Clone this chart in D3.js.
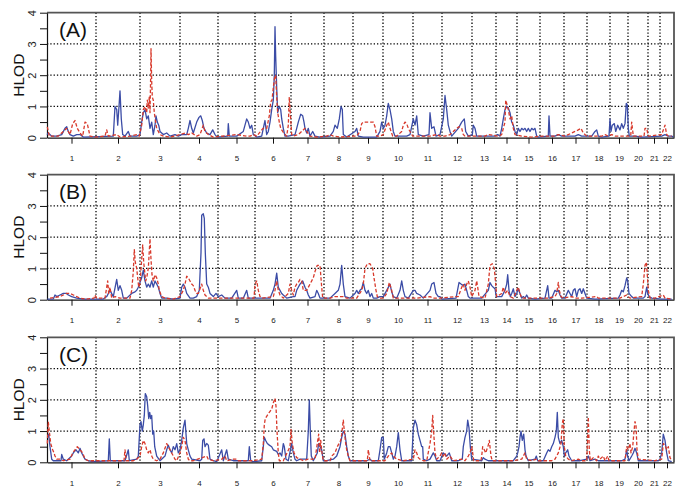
<!DOCTYPE html>
<html>
<head>
<meta charset="utf-8">
<script src="https://cdn.jsdelivr.net/npm/d3@7"></script>
<style>
  body { margin: 0; background: #fff; }
  svg { display: block; font-family: "Liberation Sans", Arial, sans-serif; }
</style>
</head>
<body>
<svg id="chart" width="685" height="493"></svg>
<script>
// chromosomes and their map lengths (map units, 22 autosomes)
var chromNames = ["1","2","3","4","5","6","7","8","9","10","11","12","13","14","15","16","17","18","19","20","21","22"];
var chromLengths = [49,44,40,38,37,36,33,29,30,30,29,30,24,21,23,24,23,23,18,20,12,14];

var hlodTicks = [0, 0.5, 1, 1.5, 2, 2.5, 3, 3.5, 4];
var hlodLabels = [0, 1, 2, 3, 4];
var gridLevels = [1, 2, 3];
var panelLabels = ["(A)", "(B)", "(C)"];

// [cumulative map position, HLOD]
var hlodBlueA = [[0,0.1],[1.3,0.15],[4.7,0.05],[9.7,0.05],[14.7,0.1],[18,0.3],[19.7,0.35],[21.3,0.2],[23,0.1],[26.3,0.05],[29.7,0.1],[33,0.1],[36.3,0.02],[66.3,0.05],[68,1.0],[69.7,0.9],[70.7,0.4],[72,1.0],[73,1.5],[74.3,0.6],[75.7,0.1],[78,0.05],[81.3,0.2],[83,0.05],[89.7,0.05],[93,0.1],[94.7,0.5],[96.3,0.8],[98,0.9],[99.7,0.6],[101.3,0.7],[103,0.3],[104.7,0.5],[106.3,0.1],[108,0.4],[109,0.7],[110.3,0.5],[111.7,0.4],[113,0.2],[116.3,0.1],[119.7,0.15],[123,0.05],[128,0.1],[131.3,0.05],[134.7,0.1],[139.7,0.1],[141.3,0.3],[143,0.55],[144.7,0.3],[146.3,0.15],[149.7,0.5],[152,0.65],[153.7,0.7],[155.3,0.55],[157,0.3],[159.7,0.15],[163,0.1],[165.7,0.25],[168,0.1],[170.3,0.02],[180.7,0.05],[181.3,0.45],[182.3,0.05],[186.3,0.05],[189.7,0.05],[196.3,0.2],[199.7,0.6],[201.3,0.5],[203,0.3],[204.7,0.4],[206.3,0.1],[209.7,0.02],[214.7,0.05],[216.3,0.3],[218,0.55],[219.7,0.1],[221.3,0.2],[223,0.5],[224.7,0.9],[226.3,1.2],[227.3,2.0],[228,3.55],[228.7,2.6],[229.7,1.6],[230.7,0.8],[232.3,1.0],[233.7,0.9],[234.7,0.6],[236.3,0.3],[238,0.05],[241.3,0.05],[248,0.1],[249.7,0.3],[251.3,0.5],[253.7,0.75],[255.7,0.7],[257,0.5],[258,0.3],[259.7,0.15],[261.3,0.3],[263,0.05],[265.7,0.2],[268,0.05],[273,0.02],[283,0.05],[286.3,0.2],[288,0.4],[290.3,0.3],[292.3,0.6],[294,1.0],[295.3,0.9],[296.3,0.1],[299.7,0.02],[308,0.2],[309.7,0.3],[311.3,0.05],[316.3,0.02],[329.7,0.02],[333,0.2],[334.7,0.5],[336.3,0.3],[338,0.4],[339.7,0.7],[341.3,1.1],[343,0.9],[344.7,0.6],[346.3,0.2],[348,0.05],[353,0.05],[359.7,0.05],[363,0.1],[366.3,0.6],[368,0.4],[369.7,0.7],[371.3,0.1],[376.3,0.05],[382,0.1],[383,0.8],[384.7,0.3],[387,0.35],[389,0.05],[393,0.1],[396.3,0.6],[398,1.35],[399.7,0.9],[401.3,0.4],[403,0.2],[404.7,0.05],[411.3,0.3],[414.7,0.5],[417.3,0.6],[418.7,0.2],[421.3,0.05],[425.3,0.1],[426.3,0.4],[428,0.3],[429.7,0.05],[441.3,0.05],[448,0.05],[450.7,0.1],[453,0.05],[454.7,0.3],[456.3,0.6],[458,0.9],[459.7,1.0],[461.3,0.95],[463,0.8],[464.7,0.5],[466.3,0.4],[468,0.2],[469.7,0.1],[471.3,0.3],[473,0.2],[474.7,0.3],[476.3,0.25],[478,0.3],[479.7,0.2],[481.3,0.3],[483,0.2],[484.7,0.3],[486.3,0.25],[488,0.3],[489.7,0.05],[491.3,0.02],[501.3,0.05],[502,0.7],[503,0.05],[508,0.05],[511.3,0.1],[514.7,0.05],[521.3,0.05],[528,0.05],[531.3,0.1],[534.7,0.05],[544.7,0.05],[548,0.2],[549.7,0.25],[551.3,0.05],[554.7,0.02],[562,0.05],[563,0.6],[564,0.2],[565.3,0.4],[567.3,0.45],[568.7,0.2],[570.7,0.4],[573,0.25],[574.7,0.45],[576.3,0.3],[578,0.45],[579.3,1.1],[580.3,1.05],[581.3,0.3],[582.3,0.05],[584.7,0.05],[588,0.05],[594.7,0.02],[614.7,0.05],[618,0.1],[621.3,0.05],[624.7,0.05],[626.3,0.02]];

var hlodRedA = [[0.3,0.35],[2.3,0.05],[11.3,0.05],[16.3,0.2],[19.7,0.3],[23,0.1],[25.7,0.45],[28,0.55],[30.3,0.3],[33,0.15],[35.7,0.05],[38,0.5],[40.3,0.45],[43,0.05],[48,0.02],[58,0.05],[59.7,0.25],[61.3,0.05],[69.7,0.1],[73,0.02],[83,0.05],[89.7,0.1],[92.3,0.05],[94.7,0.4],[96.3,0.9],[98,1.0],[99.7,0.8],[100.3,1.2],[101.3,0.95],[102.3,1.3],[103,0.8],[103.7,2.0],[104,2.85],[104.7,1.8],[105.3,1.3],[106.3,1.2],[107.3,0.8],[108.7,0.5],[109.7,0.3],[113,0.1],[116.3,0.05],[123,0.02],[133,0.1],[138,0.15],[141.3,0.1],[144.7,0.15],[149.7,0.05],[153,0.1],[156.3,0.4],[158,0.2],[161.3,0.1],[166.3,0.02],[189.7,0.1],[199.7,0.05],[203,0.05],[206.3,0.1],[209.7,0.05],[214.7,0.25],[216.3,0.3],[219.7,0.3],[222.3,0.7],[223.7,1.15],[225,1.2],[226.3,1.6],[227.7,1.95],[228.7,2.0],[229.7,1.3],[230.7,0.8],[232.3,0.5],[233.7,0.3],[235.7,0.2],[238,0.1],[239.7,0.05],[241.3,0.4],[242.3,1.3],[243.3,0.8],[244.7,0.1],[246.3,0.05],[251.3,0.1],[254.7,0.2],[258,0.3],[259.7,0.2],[263,0.05],[269.7,0.02],[279.7,0.05],[283,0.1],[286.3,0.05],[293,0.02],[306.3,0.05],[309.7,0.05],[313,0.2],[314.7,0.45],[316.3,0.5],[326.3,0.5],[328,0.35],[329.7,0.05],[333,0.05],[336.3,0.1],[339.7,0.4],[341.3,0.5],[343,0.3],[345.7,0.05],[349.7,0.05],[354.7,0.2],[356.3,0.4],[358,0.5],[359.7,0.45],[361.3,0.3],[363,0.2],[365.7,0.05],[369.7,0.05],[383,0.05],[389.7,0.1],[393,0.05],[398,0.05],[403,0.1],[409.7,0.3],[412,0.35],[414.7,0.3],[416.3,0.1],[418,0.05],[421.3,0.05],[438,0.05],[441.3,0.1],[451.3,0.05],[454.7,0.1],[456.3,0.3],[458,0.5],[458.7,1.2],[459.7,1.1],[461.3,0.9],[463,0.6],[464.7,0.7],[466.3,0.3],[468,0.1],[474.7,0.05],[484.7,0.02],[494.7,0.05],[508,0.05],[511.3,0.1],[518,0.05],[521.3,0.1],[524.7,0.15],[528,0.2],[531.3,0.25],[534,0.3],[536.3,0.15],[539.7,0.05],[554.7,0.05],[558,0.1],[561.3,0.05],[564.7,0.1],[568,0.05],[574.7,0.05],[583.7,0.05],[584.7,0.5],[586.3,0.05],[588,0.05],[597,0.05],[598,0.3],[599.7,0.3],[601.3,0.05],[614.7,0.1],[618,0.4],[619.7,0.1],[621.3,0.05],[624.7,0.05]];

var hlodBlueB = [[0.3,0.02],[6.3,0.02],[8,0.15],[9.7,0.1],[13,0.15],[16.3,0.2],[19.7,0.2],[21.3,0.15],[24.7,0.1],[29.7,0.05],[36.3,0.02],[56.3,0.02],[59.7,0.1],[63,0.3],[66.3,0.1],[69.7,0.65],[71.3,0.3],[73,0.45],[74.7,0.3],[76.3,0.05],[79.7,0.05],[84.7,0.2],[88,0.25],[89.7,0.3],[91.3,0.4],[94.7,0.7],[96.3,0.95],[98,0.6],[99.7,0.4],[101.3,0.5],[103,0.4],[104.7,0.6],[106.3,0.4],[108,0.6],[109.7,0.5],[111.3,0.4],[113,0.2],[114.7,0.05],[119.7,0.05],[126.3,0.02],[133,0.05],[134.7,0.4],[136.3,0.5],[138,0.4],[139.7,0.2],[143,0.05],[146.3,0.05],[149.7,0.1],[152.3,0.3],[154,1.5],[154.7,2.7],[156.3,2.75],[157.3,2.6],[158.3,1.5],[159.7,0.5],[161.3,0.4],[163,0.2],[166.3,0.1],[169,0.2],[171.3,0.1],[174.7,0.15],[178,0.05],[184.7,0.05],[189.7,0.3],[191.3,0.05],[196.3,0.05],[199.7,0.3],[201.3,0.05],[204.7,0.05],[213,0.05],[223,0.05],[226.3,0.3],[228,0.5],[229.7,0.85],[231.3,0.4],[233,0.3],[234.7,0.2],[236.3,0.15],[239.7,0.05],[246.3,0.1],[248,0.1],[249.7,0.3],[251.3,0.4],[253,0.5],[255.7,0.6],[258,0.4],[259.7,0.3],[261.3,0.15],[263,0.05],[268,0.1],[269.7,0.3],[271.3,0.2],[273,0.05],[283,0.05],[288,0.2],[291.3,0.3],[293,0.5],[294.7,1.1],[296.3,0.5],[298,0.1],[303,0.05],[308,0.2],[309.7,0.3],[311.3,0.2],[313,0.3],[314.7,0.35],[316.3,0.55],[318,0.3],[319.7,0.2],[321.3,0.3],[323,0.1],[324.7,0.2],[326.3,0.05],[329.7,0.05],[333,0.1],[336.3,0.1],[339.7,0.3],[343,0.5],[344.7,0.25],[346.3,0.1],[349.7,0.05],[353,0.3],[354.7,0.6],[356.3,0.3],[358,0.1],[361.3,0.05],[366.3,0.3],[368,0.3],[369.7,0.2],[373,0.15],[376.3,0.05],[383,0.3],[384.7,0.5],[387,0.55],[389,0.2],[391.3,0.1],[393,0.1],[395,0.02],[409,0.05],[410.5,0.3],[412,0.55],[414,0.5],[416.3,0.45],[418,0.5],[419.7,0.3],[421.3,0.1],[423,0.05],[428,0.05],[434.7,0.05],[441.3,0.3],[443,0.55],[444.7,0.45],[446.3,0.4],[448,0.35],[449.3,0.1],[454.7,0.1],[458,0.3],[459.7,0.5],[460.7,0.8],[462,0.3],[463.3,0.1],[464.7,0.2],[466.3,0.35],[468,0.1],[469.7,0.2],[471.3,0.35],[473,0.2],[474.7,0.05],[476.3,0.1],[478,0.05],[479.7,0.15],[481.3,0.05],[488,0.02],[498,0.05],[500.7,0.45],[502,0.05],[504.7,0.05],[508,0.3],[509.7,0.25],[511.3,0.3],[513,0.15],[514.7,0.05],[518,0.05],[521.3,0.3],[523,0.2],[524.7,0.1],[526.3,0.3],[528,0.35],[529.7,0.1],[531.3,0.3],[533,0.35],[534.7,0.2],[536.3,0.35],[538,0.2],[539.7,0.05],[548,0.02],[571.3,0.05],[573,0.15],[574.7,0.3],[576.3,0.25],[578,0.45],[579.7,0.7],[580.7,0.6],[582,0.2],[584.7,0.1],[586.3,0.05],[589.7,0.05],[596.3,0.05],[598,0.1],[599.7,0.4],[600.7,0.2],[602,0.1],[604.7,0.05],[614.7,0.02],[624.7,0.02]];

var hlodRedB = [[3,0.05],[13,0.1],[19.7,0.2],[23,0.2],[26.3,0.15],[29.7,0.1],[33,0.05],[39.7,0.02],[47,0.05],[48,0.15],[49.7,0.05],[58,0.05],[59.7,0.4],[60.7,0.6],[61.7,0.2],[63,0.4],[64.7,0.05],[68,0.1],[73,0.05],[83,0.05],[84.7,0.3],[86.3,0.9],[87.3,1.6],[88.3,1.2],[89.7,1.0],[90.7,0.7],[91.7,0.4],[93,0.5],[94.7,1.3],[95.7,1.75],[96.7,1.2],[97.7,0.9],[98.7,0.6],[99.7,0.7],[101.3,1.0],[103,1.95],[104,1.3],[105,0.8],[106.3,0.6],[108,0.8],[109.7,0.7],[111.3,0.5],[112.3,0.3],[114.7,0.1],[118,0.05],[126.3,0.02],[133,0.1],[136.3,0.3],[138,0.5],[139.7,0.75],[141.3,0.7],[143,0.6],[144.7,0.5],[146.3,0.45],[148,0.3],[149.7,0.2],[151.3,0.2],[153,0.35],[154.7,0.5],[156.3,0.3],[158,0.15],[161.3,0.05],[166.3,0.05],[179.7,0.05],[186.3,0.05],[196.3,0.05],[207,0.05],[208,0.5],[209.7,0.6],[211.3,0.3],[213,0.1],[214.7,0.05],[226.3,0.1],[228,0.3],[229.7,0.6],[231.3,0.3],[233,0.15],[236.3,0.05],[241.3,0.2],[243,0.5],[244.7,0.3],[246.3,0.15],[248,0.4],[249.7,0.5],[251.3,0.55],[253,0.65],[254.7,0.6],[256.3,0.3],[259.7,0.3],[263,0.5],[266.3,0.7],[268,0.9],[270.3,1.1],[273,1.1],[274.7,0.4],[275.7,0.05],[278,0.05],[283,0.05],[288,0.1],[293,0.1],[296.3,0.1],[299.7,0.05],[309.7,0.05],[314.7,0.3],[316.3,0.5],[318,1.0],[320.3,1.15],[323,1.15],[325.7,1.0],[327,0.7],[329,0.3],[330.3,0.1],[333,0.05],[336.3,0.05],[339.7,0.2],[342.3,0.55],[344.7,0.3],[346.3,0.05],[349.7,0.05],[366.3,0.05],[369.7,0.05],[383,0.1],[386.3,0.05],[393,0.05],[409.7,0.1],[411.3,0.1],[414.7,0.4],[416.3,0.5],[418,0.3],[419.7,0.5],[421.3,0.6],[423,0.4],[424.7,0.1],[428,0.3],[429.7,0.6],[430.7,0.4],[432,0.1],[438,0.05],[441.3,0.5],[443,1.1],[445.3,1.15],[447.3,1.0],[448.7,0.5],[449.7,0.1],[454.7,0.2],[456.3,0.4],[458,0.2],[460.7,0.3],[463,0.1],[466.3,0.05],[469.7,0.3],[471.3,0.4],[473,0.2],[474.7,0.05],[481.3,0.05],[501.3,0.05],[508,0.1],[509.7,0.2],[511.3,0.55],[512.3,0.3],[514,0.1],[516.3,0.05],[524.7,0.1],[528,0.05],[534.7,0.05],[549.7,0.1],[551.3,0.05],[558,0.05],[573,0.05],[576.3,0.1],[579.7,0.15],[581.3,0.1],[583,0.05],[594.7,0.1],[596.3,0.5],[598,1.1],[599.3,1.2],[600.3,0.8],[601.3,0.3],[603,0.05],[608,0.05],[616.3,0.15],[618,0.05],[624.7,0.02]];

var hlodBlueC = [[0.7,0.8],[1.7,0.9],[3,0.5],[4.7,0.1],[6.3,0.05],[9.7,0.05],[14,0.05],[14.7,0.25],[16.3,0.1],[19.7,0.05],[24.7,0.2],[26.3,0.3],[29,0.4],[31.3,0.3],[33,0.45],[34.7,0.3],[36.3,0.2],[38,0.1],[41.3,0.05],[46.3,0.02],[61.3,0.05],[62.3,0.75],[63.3,0.05],[69.7,0.05],[78,0.05],[81.3,0.4],[82.3,0.05],[89.7,0.1],[91.3,0.2],[93,1.2],[94,1.3],[95.3,1.0],[96.3,1.2],[97.3,1.5],[98.3,2.2],[99.7,2.1],[100.7,1.8],[101.7,1.4],[102.7,1.6],[103.7,1.4],[104.7,1.5],[105.7,0.9],[106.7,1.0],[107.7,0.5],[109.7,0.2],[113,0.05],[118,0.2],[119.7,0.4],[121.3,0.55],[123,0.4],[124.7,0.3],[126.3,0.5],[128,0.4],[129.7,0.6],[131.3,0.3],[133,0.4],[134.7,0.7],[136.3,1.1],[138,1.35],[139.7,0.6],[141.3,0.4],[143,0.2],[144.7,0.1],[153,0.05],[154.7,0.1],[155.7,0.7],[157,0.75],[158,0.5],[159.7,0.6],[161.3,0.55],[163,0.1],[166.3,0.05],[169.7,0.02],[174.7,0.4],[176.3,0.05],[179.7,0.4],[181.3,0.1],[186.3,0.05],[193,0.05],[201.3,0.05],[202.3,0.5],[203.7,0.05],[206.3,0.02],[214.7,0.05],[216.3,0.5],[217.3,0.8],[218.7,0.7],[220.3,0.6],[222.3,0.55],[224.7,0.5],[226.3,0.4],[229.7,0.35],[231.3,0.25],[233,0.3],[234.7,0.2],[236.3,0.6],[237.3,0.5],[239,0.1],[241.3,0.05],[244.7,0.6],[246.3,0.3],[248,0.1],[249.7,0.05],[253,0.1],[256.3,0.1],[259.7,0.1],[261.3,1.0],[262.3,2.0],[263.3,1.0],[264.3,0.2],[266.3,0.05],[270.3,0.3],[271.7,0.6],[273,0.5],[274.7,0.4],[276.3,0.05],[279.7,0.05],[286.3,0.1],[289.7,0.2],[293,0.5],[294.7,0.8],[296.3,1.0],[298,0.9],[299.7,0.5],[301.3,0.2],[303,0.05],[309.7,0.05],[319.7,0.05],[323,0.1],[324.7,0.05],[331.3,0.05],[333,0.4],[334.7,0.8],[336.3,0.8],[337.3,0.1],[339.7,0.3],[341.3,0.5],[343,0.5],[344.7,0.3],[346.3,0.1],[348,0.2],[349.7,0.5],[351.3,0.95],[353,0.4],[354.7,0.05],[359.7,0.05],[364.7,0.05],[366.3,1.1],[368,1.35],[369.7,1.2],[371.3,0.9],[373,0.7],[374.7,0.5],[375.7,0.5],[376.3,0.1],[379.7,0.05],[383,0.1],[386.3,0.3],[388,0.2],[389.7,0.05],[393,0.05],[396.3,0.3],[399.7,0.2],[402.3,0.3],[404.7,0.05],[411.3,0.05],[415.3,0.1],[416.3,0.5],[418,0.8],[419.7,1.0],[420.7,1.35],[422,1.1],[423.3,0.5],[424.7,0.1],[434.7,0.05],[436.3,0.15],[438,0.1],[441.3,0.05],[444.7,0.05],[451.3,0.05],[461.3,0.05],[466.3,0.05],[469.7,0.2],[470.7,0.3],[472,0.5],[473,0.8],[474,1.0],[475.3,0.7],[476.7,0.9],[478,0.4],[479,0.2],[481.3,0.05],[488,0.1],[489.3,0.2],[490.7,0.05],[496.3,0.05],[499.7,0.3],[501.3,0.4],[503,0.35],[504.7,0.5],[506.3,0.6],[508,0.8],[509.3,1.0],[510.3,1.6],[511.3,0.8],[513,0.6],[514.7,0.7],[516.3,0.5],[517.3,0.2],[518.7,0.3],[520.7,0.4],[522,0.2],[524.7,0.05],[533,0.05],[539.7,0.1],[541.3,0.2],[543,0.05],[548,0.1],[551.3,0.05],[561.3,0.05],[568,0.05],[574.7,0.05],[578,0.1],[579.7,0.4],[580.7,0.2],[582,0.05],[584.7,0.2],[586.3,0.3],[588,0.45],[589.7,0.3],[591.3,0.05],[604.7,0.05],[611.3,0.05],[613,0.1],[614.7,0.3],[616.3,0.9],[618,0.7],[619.7,0.3],[621.3,0.05],[624.7,0.02]];

var hlodRedC = [[0.3,0.6],[1.3,1.3],[2.3,1.0],[3.7,0.6],[5.7,0.4],[7,0.3],[8,0.2],[9.7,0.1],[13,0.1],[16.3,0.05],[23,0.1],[25.7,0.3],[28,0.4],[30.3,0.5],[33,0.4],[35.7,0.3],[38,0.1],[41.3,0.05],[53,0.05],[77,0.05],[78,0.4],[79,0.05],[86.3,0.05],[89.7,0.1],[93,0.2],[94.7,0.5],[96.3,0.7],[98,0.6],[99.7,0.4],[101.3,0.3],[103,0.4],[104.7,0.2],[106.3,0.1],[109.7,0.05],[113,0.1],[116.3,0.3],[119.7,0.6],[121.3,0.5],[123,0.4],[124.7,0.3],[126.3,0.2],[128,0.1],[129.7,0.05],[133,0.3],[134.7,0.5],[136.3,0.8],[138,0.7],[139.7,0.3],[141.3,0.1],[143,0.05],[146.3,0.05],[159.7,0.2],[161.3,0.1],[166.3,0.05],[174.7,0.1],[178,0.2],[179.7,0.05],[186.3,0.1],[189.7,0.1],[191.3,0.05],[199.7,0.05],[206.3,0.05],[214.7,0.1],[216.3,0.6],[217.3,1.2],[218.3,1.4],[220.3,1.5],[222.3,1.6],[224.7,1.7],[226.3,1.9],[228,2.05],[229,1.8],[230,1.0],[231.3,0.3],[232.3,0.05],[236.3,0.05],[243,0.5],[244,1.05],[245.3,0.6],[247,0.3],[249.7,0.15],[253,0.1],[256.3,0.05],[261.3,0.1],[264.7,0.1],[268,0.1],[270.3,0.6],[271.7,0.9],[272.7,0.3],[273.7,0.7],[275,0.3],[276.3,0.05],[283,0.05],[284.7,0.2],[288,0.3],[290.3,0.5],[292,0.6],[293.7,0.7],[294.7,0.9],[296.3,1.35],[297.3,1.0],[298.7,0.6],[299.7,0.4],[301.3,0.2],[303,0.05],[311.3,0.05],[320.3,0.05],[321.3,0.4],[323,0.05],[329.7,0.05],[338,0.05],[341.3,0.2],[344.7,0.3],[346.3,0.2],[349.7,0.1],[356.3,0.05],[366.3,0.1],[368,0.4],[369.7,0.3],[371.3,0.15],[373,0.1],[376.3,0.05],[379.7,0.05],[383,0.6],[384.7,1.0],[385.7,1.5],[387,0.8],[388,0.3],[389.7,0.1],[393,0.2],[394.7,0.3],[396.3,0.2],[398,0.3],[399.7,0.1],[403,0.2],[406.3,0.05],[414.7,0.1],[418,0.05],[421.3,0.2],[423,0.3],[424.7,0.5],[425.7,0.3],[426.7,0.05],[434,0.05],[434.7,0.2],[435.7,0.5],[437.3,0.4],[438.7,0.3],[441.3,0.55],[442.3,0.7],[444,0.2],[445.3,0.05],[453,0.05],[466.3,0.05],[474.7,0.1],[478,0.3],[479.7,0.1],[484.7,0.05],[489.7,0.1],[491.3,0.05],[494.7,0.05],[504.7,0.05],[508,0.1],[511.3,0.3],[514,0.6],[515.3,1.25],[516.3,1.4],[517.3,0.5],[518.7,0.2],[521.3,0.1],[524.7,0.05],[531.3,0.1],[534.7,0.05],[539.7,0.05],[540.3,0.5],[541.3,1.45],[542.3,0.4],[543.3,0.05],[546.3,0.15],[549.7,0.05],[551.3,0.2],[553,0.1],[556.3,0.2],[558,0.05],[560.7,0.2],[562,0.05],[564.7,0.05],[571.3,0.05],[578,0.05],[579.7,0.5],[581.3,0.4],[583,0.6],[584,0.3],[585.7,0.5],[587,1.0],[588,1.3],[589,1.2],[590,0.4],[591.3,0.1],[608,0.05],[614.7,0.1],[616.3,0.6],[618,0.55],[619.7,0.4],[621.3,0.5],[623,0.15],[624.7,0.05]];

var panels = [
  { label: panelLabels[0], blue: hlodBlueA, red: hlodRedA },
  { label: panelLabels[1], blue: hlodBlueB, red: hlodRedB },
  { label: panelLabels[2], blue: hlodBlueC, red: hlodRedC }
];

var
  left = 47,
  right = 674,
  panelTops = [12.7, 174.7, 337.3],
  panelH = 125,
  blueCol = "#3b4ca6",
  redCol = "#d8392b",
  gridCol = "#000";

var svg = d3.select("#chart");

var starts = [0].concat(Array.from(d3.cumsum(chromLengths)));
var mids = chromLengths.map((l, i) => starts[i] + l / 2);

var x = d3.scaleLinear()
  .domain([0, d3.sum(chromLengths)])
  .range([left, right]);

panels.forEach((p, i) => {
  var top = panelTops[i],
      bottom = top + panelH;

  var y = d3.scaleLinear().domain([0, 4]).range([bottom, top]);
  var g = svg.append("g").attr("class", "panel");

  // dotted grid
  g.selectAll(".hgrid").data(gridLevels).enter().append("line")
    .attr("class", "hgrid")
    .attr("x1", left).attr("x2", right)
    .attr("y1", (d) => y(d)).attr("y2", (d) => y(d))
    .attr("stroke", gridCol)
    .attr("stroke-width", 1.3)
    .attr("stroke-dasharray", "1.3,2");

  g.selectAll(".vgrid").data(starts.slice(1, -1)).enter().append("line")
    .attr("class", "vgrid")
    .attr("x1", (d) => x(d)).attr("x2", (d) => x(d))
    .attr("y1", top).attr("y2", bottom)
    .attr("stroke", gridCol)
    .attr("stroke-width", 1.3)
    .attr("stroke-dasharray", "1.3,2");

  // frame (top and right)
  g.append("path")
    .attr("d", "M" + left + "," + top + "H" + right + "V" + bottom)
    .attr("fill", "none")
    .attr("stroke", "#555")
    .attr("stroke-width", 1.8);

  // y axis
  var ya = g.append("g")
    .attr("transform", "translate(" + left + ",0)")
    .call(d3.axisLeft(y)
      .tickValues(hlodTicks)
      .tickSize(7)
      .tickSizeOuter(0)
      .tickFormat((d) => hlodLabels.indexOf(d) >= 0 ? d : ""));
  ya.select(".domain").attr("stroke", "#111").attr("stroke-width", 1.2);
  ya.selectAll(".tick line").attr("stroke", "#111");
  ya.selectAll("text")
    .attr("transform", "rotate(-90)")
    .attr("x", 0)
    .attr("y", -11.5)
    .attr("dy", 0)
    .attr("text-anchor", "middle")
    .attr("fill", "#222")
    .style("font-size", "11px")
    .style("font-family", "'Liberation Sans', Arial, sans-serif");

  // x axis (chromosome centres)
  var xa = g.append("g")
    .attr("transform", "translate(0," + bottom + ")")
    .call(d3.axisBottom(x)
      .tickValues(mids)
      .tickSize(6)
      .tickSizeOuter(0)
      .tickPadding(12)
      .tickFormat((d, k) => chromNames[k]));
  xa.select(".domain").attr("stroke", "#111").attr("stroke-width", 1.2);
  xa.selectAll(".tick line").attr("stroke", "#111");
  xa.selectAll("text")
    .attr("fill", "#222")
    .style("font-size", "8px")
    .style("font-family", "'Liberation Sans', Arial, sans-serif");

  // HLOD curves
  var line = d3.line()
    .x((d) => x(d[0]))
    .y((d) => y(d[1]));

  g.append("path")
    .datum(p.blue)
    .attr("d", line)
    .attr("fill", "none")
    .attr("stroke", blueCol)
    .attr("stroke-width", 1.3)
    .attr("stroke-linejoin", "round");

  g.append("path")
    .datum(p.red)
    .attr("d", line)
    .attr("fill", "none")
    .attr("stroke", redCol)
    .attr("stroke-width", 1.3)
    .attr("stroke-dasharray", "3.5,2")
    .attr("stroke-linejoin", "round");

  // labels
  g.append("text")
    .attr("transform", "translate(23.5," + (top + panelH / 2) + ") rotate(-90)")
    .attr("text-anchor", "middle")
    .attr("fill", "#111")
    .style("font-size", "15.5px")
    .text("HLOD");

  g.append("text")
    .attr("x", 59)
    .attr("y", top + 24.5)
    .attr("fill", "#111")
    .style("font-size", "21px")
    .text(p.label);
});
</script>
</body>
</html>
